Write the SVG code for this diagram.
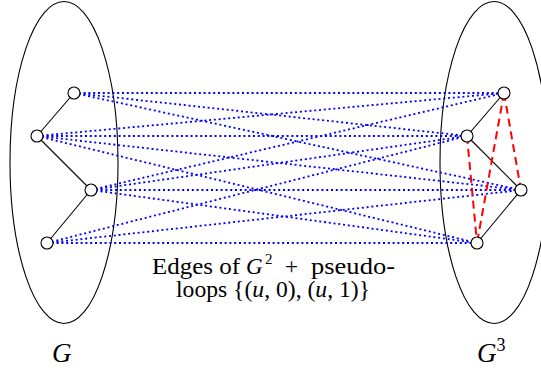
<svg xmlns="http://www.w3.org/2000/svg" width="541" height="374" viewBox="0 0 541 374">
<style>
.ell{fill:none;stroke:#000;stroke-width:1.1}
.node{fill:#fff;stroke:#000;stroke-width:1.1}
.g{stroke:#000;stroke-width:1.1;fill:none}
.blue{stroke:#0000ff;stroke-width:1.8;stroke-dasharray:2 2.8;fill:none}
.red{stroke:#ff0000;stroke-width:2;stroke-dasharray:8 5;fill:none}
text{font-family:"Liberation Serif","Times New Roman",serif;fill:#000}
.it{font-style:italic}
.cap{font-size:23px}
</style>
<rect width="541" height="374" fill="#fff"/>
<g id="ellipses">
<ellipse id="setG" class="ell" cx="64" cy="162.5" rx="54" ry="161"/>
<ellipse id="setG3" class="ell" cx="494" cy="162.5" rx="54" ry="161"/>
</g>
<g id="connectors">
<g id="blue-edges" class="blue">
<line x1="74" y1="93" x2="504" y2="93"/>
<line x1="74" y1="93" x2="467" y2="136"/>
<line x1="74" y1="93" x2="521" y2="190"/>
<line x1="37" y1="136" x2="504" y2="93"/>
<line x1="37" y1="136" x2="467" y2="136"/>
<line x1="37" y1="136" x2="521" y2="190"/>
<line x1="37" y1="136" x2="477" y2="243"/>
<line x1="91" y1="190" x2="504" y2="93"/>
<line x1="91" y1="190" x2="467" y2="136"/>
<line x1="91" y1="190" x2="521" y2="190"/>
<line x1="91" y1="190" x2="477" y2="243"/>
<line x1="47" y1="243" x2="467" y2="136"/>
<line x1="47" y1="243" x2="521" y2="190"/>
<line x1="47" y1="243" x2="477" y2="243"/>
</g>
<g id="g-edges" class="g">
<line x1="74" y1="93" x2="37" y2="136"/>
<line x1="37" y1="136" x2="91" y2="190"/>
<line x1="91" y1="190" x2="47" y2="243"/>
<line x1="504" y1="93" x2="467" y2="136"/>
<line x1="467" y1="136" x2="521" y2="190"/>
<line x1="521" y1="190" x2="477" y2="243"/>
</g>
<g id="red-edges" class="red">
<line x1="467" y1="136" x2="477" y2="243"/>
<line x1="504" y1="93" x2="477" y2="243"/>
<line x1="504" y1="93" x2="521" y2="190"/>
</g>
</g>
<g id="nodeA"><circle class="node" cx="74" cy="93" r="6"/></g>
<g id="nodeB"><circle class="node" cx="37" cy="136" r="6"/></g>
<g id="nodeC"><circle class="node" cx="91" cy="190" r="6"/></g>
<g id="nodeD"><circle class="node" cx="47" cy="243" r="6"/></g>
<g id="nodeA3"><circle class="node" cx="504" cy="93" r="6"/></g>
<g id="nodeB3"><circle class="node" cx="467" cy="136" r="6"/></g>
<g id="nodeC3"><circle class="node" cx="521" cy="190" r="6"/></g>
<g id="nodeD3"><circle class="node" cx="477" cy="243" r="6"/></g>
<g id="caption">
<text class="cap" x="152" y="274" textLength="88" lengthAdjust="spacingAndGlyphs">Edges of</text>
<text class="cap it" x="246" y="274">G</text>
<text x="265" y="264" font-size="15">2</text>
<text class="cap" x="285" y="274">+</text>
<text class="cap" x="311" y="274" textLength="84" lengthAdjust="spacingAndGlyphs">pseudo-</text>
<text class="cap" x="176" y="297" textLength="194" lengthAdjust="spacingAndGlyphs">loops {(<tspan class="it">u</tspan>, 0), (<tspan class="it">u</tspan>, 1)}</text>
</g>
<g id="labels">
<text class="it" x="52" y="362" font-size="27">G</text>
<text x="477" y="362" font-size="27"><tspan class="it">G</tspan><tspan font-size="18" dy="-11">3</tspan></text>
</g>
</svg>
